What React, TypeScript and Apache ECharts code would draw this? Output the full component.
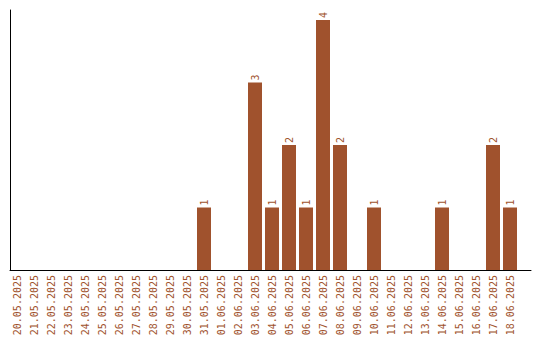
import React, { useEffect, useRef } from "react";
import * as echarts from "echarts";

const categories = [
  "20.05.2025", "21.05.2025", "22.05.2025", "23.05.2025", "24.05.2025",
  "25.05.2025", "26.05.2025", "27.05.2025", "28.05.2025", "29.05.2025",
  "30.05.2025", "31.05.2025", "01.06.2025", "02.06.2025", "03.06.2025",
  "04.06.2025", "05.06.2025", "06.06.2025", "07.06.2025", "08.06.2025",
  "09.06.2025", "10.06.2025", "11.06.2025", "12.06.2025", "13.06.2025",
  "14.06.2025", "15.06.2025", "16.06.2025", "17.06.2025", "18.06.2025",
];
const values = [
  0, 0, 0, 0, 0, 0, 0, 0, 0, 0,
  0, 1, 0, 0, 3, 1, 2, 1, 4, 2,
  0, 1, 0, 0, 0, 1, 0, 0, 2, 1,
];

const COLOR = "#A0522D";
const FONT = "DejaVu Sans Mono";

export default function App() {
  const ref = useRef<HTMLDivElement>(null);
  useEffect(() => {
    if (!ref.current) return;
    const chart = echarts.init(ref.current, null, { renderer: "svg" });
    chart.setOption({
      animation: false,
      backgroundColor: "#ffffff",
      grid: [
        { left: 8.5, width: 510, top: 20, bottom: 70 },
        { left: 10, right: 9, top: 10, bottom: 70 },
      ],
      xAxis: [
        {
          type: "category",
          gridIndex: 0,
          data: categories,
          axisLine: { show: false },
          axisTick: { show: false },
          axisLabel: {
            rotate: 90,
            interval: 0,
            margin: 5,
            color: COLOR,
            fontFamily: FONT,
            fontSize: 10,
          },
        },
        {
          type: "value",
          gridIndex: 1,
          min: 0,
          max: 1,
          axisLine: { show: true, lineStyle: { color: "#000", width: 1 } },
          axisTick: { show: false },
          axisLabel: { show: false },
          splitLine: { show: false },
        },
      ],
      yAxis: [
        {
          type: "value",
          gridIndex: 0,
          min: 0,
          max: 4,
          axisLine: { show: false },
          axisTick: { show: false },
          axisLabel: { show: false },
          splitLine: { show: false },
        },
        {
          type: "value",
          gridIndex: 1,
          min: 0,
          max: 1,
          axisLine: { show: true, lineStyle: { color: "#000", width: 1 } },
          axisTick: { show: false },
          axisLabel: { show: false },
          splitLine: { show: false },
        },
      ],
      series: [
        {
          type: "bar",
          xAxisIndex: 0,
          yAxisIndex: 0,
          data: values,
          barWidth: 14,
          itemStyle: { color: COLOR },
          label: {
            show: true,
            position: "top",
            rotate: 90,
            distance: 2,
            align: "left",
            verticalAlign: "middle",
            color: COLOR,
            fontFamily: FONT,
            fontSize: 10,
            formatter: (p: any) => (p.value ? String(p.value) : ""),
          },
        },
      ],
    });
    return () => chart.dispose();
  }, []);
  return (
    <div
      ref={ref}
      style={{ width: 540, height: 340, position: "absolute", left: 0, top: 0 }}
    />
  );
}
